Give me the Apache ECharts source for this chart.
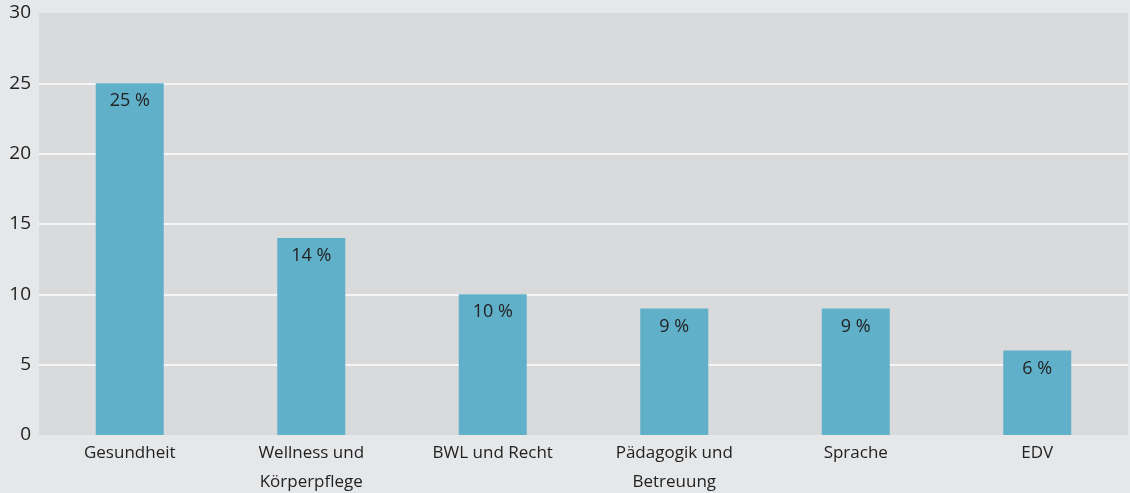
<!DOCTYPE html>
<html>
<head>
<meta charset="utf-8">
<script src="https://cdn.jsdelivr.net/npm/echarts@6/dist/echarts.min.js"></script>
<style>
  html, body { margin: 0; padding: 0; background: #e6e7e9; }
  #main { width: 1130px; height: 493px; }
</style>
</head>
<body>
<div id="main"></div>
<script>
// Daten
var categories = ['Gesundheit', 'Wellness und\nKörperpflege', 'BWL und Recht', 'Pädagogik und\nBetreuung', 'Sprache', 'EDV'];
var values = [25, 14, 10, 9, 9, 6];

var chart = echarts.init(document.getElementById('main'));
var font = 'Open Sans';

var option = {
  backgroundColor: '#e6e7e9',
  grid: {
    left: 39, right: 2, top: 13, bottom: 58,
    outerBoundsMode: 'none', containLabel: false,
    show: true, backgroundColor: '#d9dadc', borderWidth: 0
  },
  xAxis: {
    type: 'category',
    data: categories,
    axisLine: { show: false },
    axisTick: { show: false },
    axisLabel: {
      color: '#222', fontFamily: font, fontSize: 17,
      margin: 4, lineHeight: 29, interval: 0
    }
  },
  yAxis: {
    type: 'value',
    min: 0, max: 30, interval: 5,
    axisLine: { show: false },
    axisTick: { show: false },
    axisLabel: { color: '#222', fontFamily: font, fontSize: 19, margin: 8 },
    splitLine: {
      show: true,
      lineStyle: { color: '#f5f5f6', width: 2 },
      // keine Linie bei 0 und 30
      showMinLine: false, showMaxLine: false
    }
  },
  series: [{
    type: 'bar',
    data: values,
    barWidth: 68,
    itemStyle: { color: '#61b0c9' },
    label: {
      show: true,
      position: 'insideTop',
      distance: 9,
      color: '#222', fontFamily: font, fontSize: 18,
      formatter: '{c} %'
    }
  }]
};
chart.setOption(option);
</script>
</body>
</html>
